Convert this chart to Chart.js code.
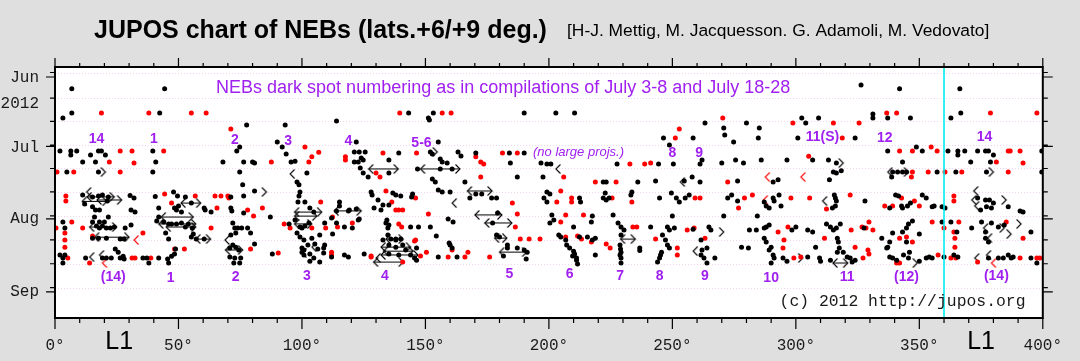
<!DOCTYPE html>
<html>
<head>
<meta charset="utf-8">
<title>JUPOS chart of NEBs</title>
<script src="https://cdn.jsdelivr.net/npm/chart.js@4.4.1/dist/chart.umd.min.js"></script>
<style>
    html, body { margin: 0; padding: 0; background: #dfdfdf; }
    #wrap { position: relative; width: 1080px; height: 361px; }
</style>
</head>
<body>
<div id="wrap"><canvas id="nebChart"></canvas></div>
<script>
// longitude (System I, deg) and date (days after 2012 June 1)
const blackSpots = [
    [6.8,5.9],[44.4,5.9],[326.4,4.3],[342,5.9],[366.4,5.9],
    [6.8,16.1],[42.4,16.1],[143.2,16.1],[153.2,16.1],[190,16.1],[202.8,16.1],[210.4,16.1],[366.8,16.1],[331.2,16.5],
    [3.2,18.2],[151.2,18.2],[302.4,18.2],[309.2,18.2],[331.2,18.2],[337.2,18.2],[346.4,18.2],[362.8,18.2],
    [77.6,21.1],[93.2,21.1],[114,19.5],
    [2,32.1],[6.4,32.1],[8.8,32.1],[17.6,32.1],[18.8,32.1],[39.6,32.1],[73.6,32.1],[121.2,32.5],
    [74.8,30.4],[90,28.3],[92,30.4],
    [6.4,33.8],[14.4,33.8],[20.4,33.8],[93.6,33.4],
    [11.2,36.8],[16.4,36.8],[40.8,36.8],[68,36.8],[76.4,36.8],[80,36.8],[80.8,37.2],[95.6,36.8],[97.2,36.4],[121.2,36.8],
    [4.8,41],[17.6,41],[39.6,41],[74.8,41],[102,41.4],
    [98,45.2],[98.8,46.4],[76,46.4],
    [11.2,50.7],[15.2,51.5],[17.6,51.1],[19.2,50.7],[21.6,51.5],[21.2,53.2],
    [30.4,50.9],[32,52],[40.6,51.3],[48,49.4],[49.6,51.1],[52.8,51.5],[50,55.3],[55.2,54.1],
    [71.2,51.5],[76.4,51.1],[80.8,49],[99.2,49.4],[98.8,51.1],
    [12,54.5],[15.2,55.7],[18,57],[16.4,57],[30.8,57],[32.4,57.9],
    [42,56.2],[48.4,56.2],[49.2,57],[51.2,57.9],[60.8,57],[63.2,57.9],[60.4,56.2],
    [71.2,56.2],[71.6,57.4],[76.4,58.3],[87.2,60],
    [98.4,53.6],[101.2,53.6],[103.2,56.2],[104.8,57.9],[115.2,53.6],[115.2,55.3],[119.2,57],[129.2,56.2],
    [118.8,57.4],[114,57.4],[112,60.4],[123.2,60.8],
    [3.2,62.1],[4,64.6],[15.2,62.1],[18,62.1],[20,62.1],[21.6,60],[16,60],
    [16.8,63.8],[18,64.6],[19.2,63.8],[20.8,64.6],[22.4,64.6],[24,64.2],[28.4,64.6],[30.8,63.4],
    [41.2,61.7],[42,60],[44,62.1],[46,62.9],[47.2,62.9],[49.2,62.9],[51.2,62.5],[52.8,64.2],[54,62.9],[55.6,64.6],
    [72,62.5],[72.8,64.6],[74,64.6],[75.6,64.6],[78,64.6],[73.2,66.7],[79.2,66.7],
    [94.8,62.9],[97.2,61.2],[99.2,64.2],[100,64.6],[101.2,63.8],[102.8,62.5],[109.2,62.5],[114,62.5],[117.2,64.2],[120.4,64.6],
    [15.2,68.9],[17.6,68.9],[20.8,68.9],[26.4,69.3],[28,69.3],
    [44.8,66.7],[46,69.3],[56,67.2],[55.2,68.4],[57.2,69.3],[60.4,69.3],[71.2,67.6],
    [98,66.7],[99.2,68.4],[104,68.9],[107.2,67.6],[112.4,67.2],[100.8,69.7],[102.4,71.8],
    [24.4,73.5],[25.6,74.8],[48.8,73.5],[70.8,73.1],[72,71.8],[73.2,72.7],[74.4,73.9],[80.8,71.4],
    [100,73.1],[100.8,73.9],[105.2,71.4],[106.4,73.5],[109.2,71.8],[108.8,73.1],
    [2,76],[3.2,77.3],[4,76],[12.4,77.3],[19.2,77.3],[20.8,77.3],[22.8,77.3],[26.4,77.3],[27.6,76.5],[28,77.7],
    [35.6,77.3],[37.2,77.3],[42,77.3],[45.6,77.7],[47.2,76.5],[48.4,75.6],
    [70.8,76.9],[72.8,77.3],[75.2,77.3],[88,75.6],
    [100,74.8],[100.8,76],[103.2,75.6],[104.8,77.3],[108.8,75.2],[112,76.9],[117.2,76],[118.8,76.9],
    [3.2,79.4],[38,79.4],[46,79.4],[72.4,79.4],[74.8,79.4],[103.2,78.6],[107.2,79],
    [151.6,19],[155.2,28.3],[122,28.3],
    [123.2,32.5],[125.6,32.5],[124,35.1],[122.8,36.8],[124.8,35.9],[135.2,35.9],
    [139.2,33],[152,32.5],[152.8,33.4],[163.2,32.5],[164.4,34.2],[170.4,33],[184,33],[190,33],
    [156,35.5],[156.8,36.8],[158.8,37.2],
    [123.6,39.3],[135.2,41.4],[124.8,41.4],[126.8,43.1],
    [146.8,39.7],[156,39.7],[160.8,39.7],[166,45.2],[154,45.2],[152.8,43.9],
    [184.4,37.2],[196.8,37.2],[199.2,37.6],[200.8,37.6],[197.6,43.1],[187.2,43.1],
    [222,45.2],[223.2,45.2],[236,45.2],[243.2,44.8],[254.8,44.8],[258,43.1],[261.2,45.2],
    [246.4,26.6],[258.4,26.6],[248.8,29.6],[263.2,20.3],
    [227.6,37.6],[244.4,37.6],[250.4,37.6],[261.2,37.6],[262,35.9],
    [128,49.4],[128.4,50.7],[136.8,49.8],[138,50.7],[140,51.1],[144.4,51.5],[144.8,50.3],
    [156.8,49.4],[155.2,48.6],[160,49.4],
    [168,52],[170.4,50.3],[172.8,50.3],[176.8,52],[178.8,52],
    [199.2,49.4],[198,52],[200.4,50.3],[212.4,52],
    [222.8,49.8],[222,52],[224.4,52],[233.6,49.4],[244.8,52],[249.6,49.8],[251.6,52],[255.2,52],[256.8,50.7],
    [130.8,52.8],[132.8,54.9],[132,57],[135.2,54.9],[122,56.6],[122.8,61.2],
    [134.4,61.2],[134,62.5],[135.2,63.4],[134.8,64.6],[144,64.2],[147.2,64.2],[152,64.2],
    [159.2,60.8],[161.2,62.1],[177.2,62.5],[179.2,58.3],
    [199.2,53.6],[212.8,53.6],
    [201.2,59.1],[202,61.2],[200.4,62.5],[210,64.2],[217.2,62.1],[217.6,59.6],
    [223.2,52.8],[226,59.1],[228,62.5],[229.2,64.2],[230.4,65.5],[233.2,50.7],
    [241.2,64.2],[250,59.6],[248,64.2],[248.8,65.5],[250.8,64.6],[258.4,65.1],[252.8,53.6],
    [134.8,67.6],[136,69.3],[138,69.3],[140,69.3],[154.4,68],
    [180,68.4],[178.8,67.6],[183.2,71.8],
    [204,67.6],[204.8,68.4],[212.4,68.4],[215.6,68.4],[217.6,69.7],[218.8,68.9],
    [206.8,69.7],[207.2,71.8],[208.4,73.1],[210,74.4],[210.4,75.6],[209.6,76.4],[211.2,77.3],[211.2,78.2],[211.6,79.8],[218.8,76],
    [229.2,67.6],[228.8,71.8],[229,73.5],[229.2,74.8],[228.8,76],[229.2,77.3],[229.2,79.4],
    [236.8,73.1],[236.8,74.1],
    [246,67.6],[247.2,69.7],[248,71.8],[248.8,73.1],[245.6,74.8],[245.2,76],[244.8,77.3],[244,79],
    [261.6,69.7],[262,73.9],[261.6,76],[262.8,77.3],[264,79.4],
    [132.8,69.7],[135.2,71.8],[138,72.7],[140.8,71.8],[142,73.9],[144,76],[145.6,77.3],[146.4,78.2],
    [125.2,75.6],[135.2,75.6],[139.2,76],[146.4,73.1],[138,69.7],
    [155.2,76.9],[162.8,76.9],[159.6,71],[160,71.8],[160.8,73.1],
    [183.2,73.1],[181.6,76.4],[187.2,73.1],[190,73.9],[191.2,74.8],[190.8,77.7],
    [270.8,22.4],[280,20.3],[285.2,22.4],[304,20.3],
    [300.8,26.6],[324,26.6],[271.2,25.4],[274.8,28.3],[284.8,26.6],
    [337.2,32.1],[348.8,30.4],[351.2,32.1],[361.6,32.1],[365.6,32.1],[368.4,32.1],[373.6,32.1],[376.8,32.1],[378,32.1],[399.6,32.1],
    [365.6,33.8],[380,33.8],
    [270,37.2],[275.6,35.9],[278.8,37.2],[286,35.9],[296.4,35.9],[306.8,35.9],[313.2,35.9],[316.4,37.2],[343.2,36.8],[370.8,36.8],[378.8,36.8],
    [339.2,41],[341.2,41],[343.2,41],[344.8,41],[357.2,41],[364.8,41],[377.2,41],[399.6,41],
    [315.2,41],[316.4,41.4],[318.4,40.5],[313.6,44.3],[338.8,43.1],
    [276.4,44.8],[290.8,45.2],[292.8,44.3],
    [272.4,52],[274,50.7],[276.4,53.2],[287.2,53.6],[290.8,52],[291.2,53.2],[293.2,50.7],[315.6,50.7],[316,52],[316.4,53.2],
    [328,53.2],[340.4,50.7],[341.6,51.1],[351.2,50.7],[352.8,52],
    [288,55.3],[289.2,56.2],[294,55.3],[314.8,56.2],[316,55.3],
    [338,56.2],[342.8,55.3],[343.2,56.2],[345.2,55.3],[346.4,54.1],[355.2,55.7],[356,55.3],[359.2,55.7],[360.4,56.2],
    [373.6,52],[374.8,57],[376.8,52.8],[378.4,52.8],[380,54.1],[390.8,57.4],[392,57.9],[386,55.7],[377.2,55.7],[379.2,56.2],
    [270.8,59.6],[284.4,59.6],
    [264.8,64.2],[265.6,65.5],[281.2,65.5],[284,65.5],[288,64.2],[287.2,64.6],[289.2,63.4],[300,64.2],[298.4,65.5],[304.8,65.5],
    [306.8,66.3],[312.4,62.9],[314,64.2],[315.2,65.5],[316.4,64.6],[318,62.9],[327.6,64.6],
    [334.8,68.9],[339.2,66.7],[338,70.5],[337.2,72.7],[343.2,66.3],[344.8,64.6],[345.6,62.9],[347.2,61.7],[350,67.2],
    [359.2,62.1],[362.8,62.1],[365.2,66.3],[371.2,64.6],
    [375.2,62.1],[376.8,66.3],[379.2,62.5],[382,64.2],[384.4,63.4],[376.8,68.9],[378,70.5],[395.2,66.3],
    [264,73.1],[267.2,77.3],[278,72.7],[280.8,73.1],[287.2,68.9],[288,70.5],[290,72.7],[289.2,73.9],[290.8,76],[291.2,77.3],
    [290,79.4],[294.8,77.3],[296.4,78.6],[304.8,76.9],[308,72.7],[309.6,77.3],[310,78.6],[314,78.2],
    [316.8,68.9],[317.2,70.5],[317.6,73.1],[316.8,74.8],[319.2,74.8],[320.8,76.9],[322,77.3],[322.8,79],[324,78.2],
    [336.8,73.1],[338,76.9],[339.2,77.3],[340.8,78.2],[343.6,76],[345.6,77.3],[346,74.8],[344.8,70.5],[350,78.6],
    [352.8,77.3],[354,76.9],[355.2,77.3],[360,76.9],[364,76],[365.6,76.9],
    [378,77.3],[382,77.3],[384,77.3],[386,76],[387.2,77.3],[388,76.9],[395.2,77.3],[397.6,79.4],
];

const redSpots = [
    [18.8,16.1],[38,16.1],[55.2,16.1],[61.2,16.1],[139.6,16.1],[156.8,16.1],[160.4,16.1],[336.8,16.1],[340.8,16.1],[378.8,16.1],[397.6,16.1],[270.4,18.2],
    [71.2,22.8],[26.4,32.1],[31.2,32.1],[44,32.1],[101.2,30.4],[106.8,32.6],[117.6,34.6],[117.6,35.9],
    [22,36.8],[32,37.2],[87.6,36.8],[102.8,36.8],[104,34.6],
    [0.8,41],[7.6,41],[26.4,41],
    [4.4,51.1],[44.4,50.3],[56.8,51.1],[64.8,51.1],[67.2,51.1],[70,51.1],[70.4,52],
    [4.4,53.2],[47.2,54.1],[65.6,56.2],[78,57],[80.4,59.6],[84,56.2],[107.6,53.6],[112.4,60],
    [6.8,62.1],[11.2,64.6],[63.2,64.6],[92.8,62.9],[95.2,64.6],[104,64.6],[109.6,64.6],[114.4,64.2],[120.4,62.5],
    [4,66.7],[15.2,68],[35.6,66.7],[4,72.7],[52.4,73.5],[79.2,73.5],[112,74.8],[90.4,75.2],[48.4,73.5],
    [5.2,77.3],[31.2,77.3],[32.4,77.3],[38.8,77.3],[112,76],[128,76.9],[14,79.4],[0.4,64.6],[4,69.7],
    [132.8,33],[146.4,33],[170.4,34.6],[172.4,36.8],[173.6,37.6],[181.2,33],[187.2,33],
    [130,41.4],[131.6,43.1],[172.4,43.1],[206,43.1],[218.8,45.2],[227.2,45.2],
    [251.2,26.6],[252.8,22.8],[232.8,37.6],[238.8,37.6],[241.2,37.2],
    [134,49],[146,52],[204.8,49],[209.2,52],[225.6,52],[259.2,52],[261.2,52],
    [136.4,53.6],[138,57],[139.2,57],[140.8,57],[139.2,62.9],[140.4,64.2],[151.2,58.7],
    [187.2,58.7],[186.4,64.2],[185.2,54.1],
    [203.2,53.6],[209.2,53.6],[206.8,59.1],[204.8,62.1],[214,59.1],[233.6,53.6],
    [234,64.2],[235.6,64.2],[256,65.5],[258.8,64.6],
    [145.6,70.1],[188.4,69.3],[192,69.3],[196.4,69.3],
    [206.8,68.4],[211.6,68],[213.2,69.3],[217.2,70.5],
    [243.2,69.3],[263.2,68.9],[223.2,71.4],[224.8,73.1],[252,73.1],[252,76],
    [128,76.4],[140.8,79],[146,69.7],[148,76.4],[150.4,74.8],
    [159.2,76.9],[167.2,74.8],[166,76.9],[160.8,73.9],[176,76.9],
    [298.8,20.3],[315.2,20.3],[325.6,20.3],[318.8,26.6],
    [342,32.1],[347.2,32.1],[354.8,30.4],[357.2,32.1],[386,32.1],[386.8,32.1],[390.8,32.1],
    [305.2,34.3],[381.2,36.8],[392,37.2],
    [347.2,41],[353.6,41],[360.4,41],[367.2,41],[386,41],[346.8,43.1],[272.4,45.2],
    [279.2,52],[282.4,50.7],[298,52],[305.6,52],[322,50.7],[342.8,52],[348,53.2],[364,51.1],[364,53.2],
    [276.8,56.2],[312.4,56.6],[336,55.3],[339.2,55.3],[350,55.3],
    [292.8,66.3],[296.8,64.2],[322.4,65.5],[326.8,64.2],[328.4,64.6],[329.6,62.1],[331.2,65.5],
    [342,68.9],[347.2,70.5],[344.8,68.4],
    [355.2,62.1],[360,64.6],[366,62.1],[364,66.3],[364.4,68.9],[364.4,72.7],[385.2,62.1],[392,68.9],
    [295.2,69.7],[294.8,73.1],[299.2,77.3],[302,76.9],[311.6,68.9],[324,72.7],[327.2,77.3],[329.2,73.9],[329.6,75.6],
    [340.8,79.4],[342,79.4],[357.6,76],[362.8,77.3],[364.8,77.3],[373.6,79],[390.8,77.3],[397.6,77.3],[398.8,77.3],
];

// open drift marks "<" and ">"
const leftMarks = [
    [95.2,41.8],[12.8,49.4],[14,76.9],[18,76],[68.8,69.7],[104,72.7],[202.8,39.7],[253.2,45.2],[258.4,74.4],
    [310.8,53.2],[337.2,41],[371.2,52.8],[372.4,55.3],[372,49],[376,64.6],[377.6,68.9],[372.4,77.3],[377.2,76],
    [130,77.3],[100,75.2],[160.8,54.1],
];
const rightMarks = [
    [20.4,41],[85.6,49.4],[154.8,32.5],[319.2,37.2],[345.6,41],[380,41],[385.2,52.8],[384.4,64.6],[391.2,62.9],
    [387.2,67.2],[270.8,66.3],[302.8,77.3],[349.2,79.4],
];
const redLeftMarks = [[287.6,43.1],[302,43.1],[286.8,52.8],[32,69.7],[19.2,79.4],[379.2,79.4]];

// drift projections: [from lon, to lon, day]
const drifts = [
    [11,21,53.4],[17,27,52.8],[13,24,51.5],[14,25,64.2],[16,30,68.5],
    [43,56,60],[42,57,62.9],[45,57,64.2],[51,59,54.1],
    [57,63,69.3],[69,76,73.9],
    [97,108,57.9],[97,106,59.6],[97,104,62.9],[113,124,57.4],
    [132,144,72.7],[133,145,74.4],[132,147,76],[129,141,79],[134,141,69.3],[127,139,39.7],
    [148,164,39.7],[167,177,49],[170,181,59.1],[174,185,62.5],[178,183,68.9],[180,191,74.8],
    [229,235,69.3],[315,321,79.4],
];

const spotNumbers = [
    ['14',16.8,27.1],['1',40,27.1],['2',72.8,27.5],['3',94.4,27.9],['4',118.8,27.9],['5-6',148.4,28.7],
    ['8',250,33],['9',260.8,33],['11(S)',310.8,26.2],['12',336,26.6],['14',376.4,26.2],
    ['(14)',23.6,85.3],['1',46.8,85.7],['2',73.2,85.3],['3',102,84.9],['4',133.6,84.9],['5',184,84],
    ['6',208.4,84],['7',228.8,84.9],['8',244.8,84.9],['9',263.2,84.9],['10',290,85.7],['11',320.8,85.3],
    ['(12)',344.8,85.3],['(14)',381.2,84.9],
];

const lonLabels = [0, 50, 100, 150, 200, 250, 300, 350, 400];
const yLabelDays = [1.3, 12.3, 30.6, 60.8, 91.6];
const yLabels = ['Jun', '2012', 'Jul', 'Aug', 'Sep'];
const monthDays = [0.9, 30.2, 60.8, 91.6];
const gridDays = [-1, 9.8, 19.6, 29.6, 39.5, 49.4, 59.5, 69.6, 79.7, 89.8];
const l1Lons = [26, 375];

document.addEventListener('DOMContentLoaded', () => {
    const colors = {
        page: '#dfdfdf',
        plot: '#ffffff',
        black: '#000000',
        red: '#ff0000',
        purple: '#a020f0',
        grid: '#f0d4f0',
        cyan: '#00eef0',
        text: '#1a1a1a',
    };
    const mono = '"Liberation Mono", "DejaVu Sans Mono", monospace';
    const sans = '"Liberation Sans", Arial, sans-serif';

    function chevron(dir, color) {
        const c = document.createElement('canvas');
        c.width = 12;
        c.height = 10;
        const g = c.getContext('2d');
        g.strokeStyle = color;
        g.lineWidth = 1.1;
        g.beginPath();
        if (dir < 0) {
            g.moveTo(10.5, 0.5); g.lineTo(6, 5); g.lineTo(10.5, 9.5);
        } else {
            g.moveTo(1.5, 0.5); g.lineTo(6, 5); g.lineTo(1.5, 9.5);
        }
        g.stroke();
        return c;
    }
    const leftHead = chevron(-1, colors.black);
    const rightHead = chevron(1, colors.black);
    const redLeftHead = chevron(-1, colors.red);

    const pts = (list) => list.map(([x, y]) => ({ x, y }));

    const dots = (label, list, color) => ({
        label,
        data: pts(list),
        backgroundColor: color,
        borderColor: color,
        pointRadius: 2.5,
        pointHoverRadius: 2.5,
        pointBorderWidth: 0,
    });
    const marks = (label, list, img) => ({
        label,
        data: pts(list),
        pointStyle: img,
        pointRadius: 3,
        pointHoverRadius: 3,
    });

    const datasets = [
        dots('dark spots', blackSpots, colors.black),
        dots('dark spots (red)', redSpots, colors.red),
        marks('left', leftMarks, leftHead),
        marks('right', rightMarks, rightHead),
        marks('left red', redLeftMarks, redLeftHead),
    ];
    drifts.forEach(([x1, x2, y], i) => {
        datasets.push({
            label: 'drift ' + i,
            data: [{ x: x1, y }, { x: x2, y }],
            showLine: true,
            borderColor: colors.black,
            borderWidth: 1,
            pointStyle: (ctx) => (ctx.dataIndex === 0 ? leftHead : rightHead),
            pointRadius: 3,
            pointHoverRadius: 3,
        });
    });

    const decor = {
        id: 'decor',
        beforeDraw(chart) {
            const { ctx, chartArea: a } = chart;
            const y = chart.scales.y;
            ctx.save();
            ctx.fillStyle = colors.page;
            ctx.fillRect(0, 0, chart.width, chart.height);
            ctx.fillStyle = colors.plot;
            ctx.fillRect(a.left, a.top, a.right - a.left, a.bottom - a.top);
            ctx.strokeStyle = colors.grid;
            ctx.lineWidth = 1;
            ctx.setLineDash([1, 2]);
            gridDays.forEach((d) => {
                const py = Math.round(y.getPixelForValue(d)) + 0.5;
                ctx.beginPath();
                ctx.moveTo(a.left, py);
                ctx.lineTo(a.right, py);
                ctx.stroke();
            });
            ctx.restore();
        },
        afterDatasetsDraw(chart) {
            const { ctx, chartArea: a } = chart;
            const x = chart.scales.x;
            const y = chart.scales.y;
            ctx.save();

            // 360 deg marker
            const cx = x.getPixelForValue(360);
            ctx.strokeStyle = colors.cyan;
            ctx.lineWidth = 1.6;
            ctx.beginPath();
            ctx.moveTo(cx, a.top);
            ctx.lineTo(cx, a.bottom);
            ctx.stroke();

            // frame and ticks
            ctx.strokeStyle = colors.black;
            ctx.lineWidth = 2;
            ctx.strokeRect(a.left, a.top, a.right - a.left, a.bottom - a.top);
            ctx.lineWidth = 1.2;
            ctx.beginPath();
            for (let v = 0; v <= 400; v += 10) {
                const px = x.getPixelForValue(v);
                const major = v % 50 === 0;
                ctx.moveTo(px, a.top);
                ctx.lineTo(px, a.top - (major ? 9 : 4));
                ctx.moveTo(px, a.bottom);
                ctx.lineTo(px, a.bottom + (major ? 11 : 5));
            }
            gridDays.forEach((d) => {
                const py = y.getPixelForValue(d);
                ctx.moveTo(a.left, py); ctx.lineTo(a.left - 5, py);
                ctx.moveTo(a.right, py); ctx.lineTo(a.right + 5, py);
            });
            monthDays.forEach((d) => {
                const py = y.getPixelForValue(d);
                ctx.moveTo(a.left, py); ctx.lineTo(a.left - 9, py);
                ctx.moveTo(a.right, py); ctx.lineTo(a.right + 10, py);
            });
            ctx.stroke();

            // spot numbering
            ctx.textAlign = 'center';
            ctx.textBaseline = 'middle';
            ctx.fillStyle = colors.purple;
            ctx.font = 'bold 14px ' + sans;
            spotNumbers.forEach(([t, lon, d]) => {
                ctx.fillText(t, x.getPixelForValue(lon), y.getPixelForValue(d));
            });
            ctx.font = 'italic 13px ' + sans;
            ctx.fillText('(no large projs.)', x.getPixelForValue(212), y.getPixelForValue(32.5));
            ctx.font = '18px ' + sans;
            ctx.fillText('NEBs dark spot numbering as in compilations of July 3-8 and July 18-28',
                x.getPixelForValue(181.5), y.getPixelForValue(5.5));

            ctx.fillStyle = colors.text;
            ctx.font = '16.4px ' + mono;
            ctx.fillText('(c) 2012 http://jupos.org', x.getPixelForValue(343.2), y.getPixelForValue(95.8));

            ctx.fillStyle = colors.black;
            ctx.font = '25px ' + sans;
            l1Lons.forEach((lon) => ctx.fillText('L1', x.getPixelForValue(lon), a.bottom + 24));

            // headings
            ctx.textAlign = 'left';
            ctx.textBaseline = 'alphabetic';
            ctx.font = 'bold 25px ' + sans;
            ctx.fillText('JUPOS chart of NEBs (lats.+6/+9 deg.)', 94, 37.5);
            ctx.font = '17.4px ' + sans;
            ctx.fillText('[H-J. Mettig, M. Jacquesson. G. Adamoli, M. Vedovato]', 567, 36);
            ctx.restore();
        },
    };

    new Chart(document.getElementById('nebChart'), {
        type: 'scatter',
        data: { datasets },
        options: {
            responsive: true,
            maintainAspectRatio: false,
            animation: false,
            events: [],
            layout: { padding: { top: 67, right: 26, left: 0, bottom: 0 } },
            plugins: {
                legend: { display: false },
                tooltip: { enabled: false },
            },
            scales: {
                x: {
                    type: 'linear',
                    min: 0,
                    max: 400,
                    position: 'bottom',
                    afterFit(scale) { scale.height = 43; },
                    afterBuildTicks(scale) { scale.ticks = lonLabels.map((v) => ({ value: v })); },
                    ticks: {
                        callback: (v) => v + '°',
                        color: colors.text,
                        font: { family: mono, size: 16 },
                        padding: 18,
                        maxRotation: 0,
                        autoSkip: false,
                    },
                    grid: { display: false, drawTicks: false },
                    border: { display: false },
                },
                y: {
                    type: 'linear',
                    min: -3.33,
                    max: 102.6,
                    reverse: true,
                    position: 'left',
                    afterFit(scale) { scale.width = 55; },
                    afterBuildTicks(scale) { scale.ticks = yLabelDays.map((v) => ({ value: v })); },
                    ticks: {
                        callback: (v, i) => yLabels[i],
                        color: colors.text,
                        font: { family: mono, size: 16 },
                        padding: 16,
                        autoSkip: false,
                    },
                    grid: { display: false, drawTicks: false },
                    border: { display: false },
                },
            },
        },
        plugins: [decor],
    });
});
</script>
</body>
</html>
